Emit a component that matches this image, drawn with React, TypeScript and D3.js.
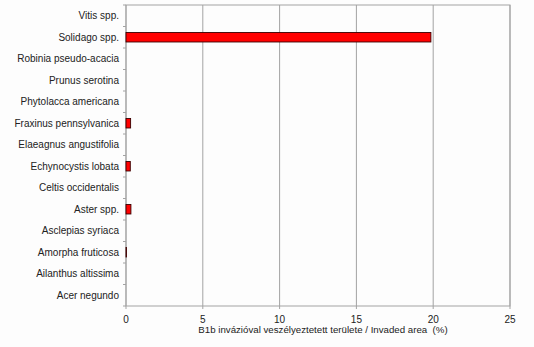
import React from "react";
import * as d3 from "d3";

const categories = [
  "Vitis spp.",
  "Solidago spp.",
  "Robinia pseudo-acacia",
  "Prunus serotina",
  "Phytolacca americana",
  "Fraxinus pennsylvanica",
  "Elaeagnus angustifolia",
  "Echynocystis lobata",
  "Celtis occidentalis",
  "Aster spp.",
  "Asclepias syriaca",
  "Amorpha fruticosa",
  "Ailanthus altissima",
  "Acer negundo",
];
const values = [0, 19.85, 0, 0, 0, 0.3, 0, 0.28, 0, 0.32, 0, 0.03, 0, 0];
const xTicks = [0, 5, 10, 15, 20, 25];
const xLabel = "B1b invázióval veszélyeztetett területe / Invaded area  (%)";

const W = 534;
const H = 347;
const M = { left: 126, right: 24, top: 5, bottom: 41 };

export default function App() {
  const x = d3.scaleLinear().domain([0, 25]).range([M.left, W - M.right]);
  const y = d3
    .scaleBand<string>()
    .domain(categories)
    .range([M.top, H - M.bottom])
    .paddingInner(0)
    .paddingOuter(0);
  const bw = y.bandwidth();
  const barH = bw * 0.44;
  const font = "Liberation Sans, Arial, Helvetica, sans-serif";
  const grid = "#a3a3a3";
  const bottom = H - M.bottom;
  const bandEdges = categories.map((c) => y(c)!).concat([bottom]);

  return (
    <svg
      width={W}
      height={H}
      style={{ position: "absolute", left: 0, top: 0, background: "#fdfdfd" }}
      fontFamily={font}
    >
      <rect x={0} y={0} width={W} height={H} fill="#fdfdfd" />
      {/* plot frame */}
      <rect
        x={x(0)}
        y={M.top}
        width={x(25) - x(0)}
        height={bottom - M.top}
        fill="none"
        stroke={grid}
        strokeWidth={1}
      />
      {/* vertical gridlines */}
      {xTicks.map((t) => (
        <line
          key={"g" + t}
          x1={x(t)}
          x2={x(t)}
          y1={M.top}
          y2={bottom + 3}
          stroke={grid}
          strokeWidth={1}
        />
      ))}
      {/* y ticks */}
      {bandEdges.map((e, i) => (
        <line
          key={"yt" + i}
          x1={x(0) - 3}
          x2={x(0)}
          y1={e}
          y2={e}
          stroke={grid}
          strokeWidth={1}
        />
      ))}
      {/* bars */}
      {categories.map((c, i) =>
        values[i] > 0 ? (
          <rect
            key={"b" + c}
            x={x(0)}
            y={y(c)! + (bw - barH) / 2}
            width={x(values[i]) - x(0)}
            height={barH}
            fill="#ff0000"
            stroke="#3a0000"
            strokeWidth={0.9}
          />
        ) : null
      )}
      {/* category labels */}
      {categories.map((c) => (
        <text
          key={"l" + c}
          x={x(0) - 7}
          y={y(c)! + bw / 2}
          dy="0.35em"
          textAnchor="end"
          fontSize={10}
          fill="#222"
        >
          {c}
        </text>
      ))}
      {/* x tick labels */}
      {xTicks.map((t) => (
        <text
          key={"xl" + t}
          x={x(t)}
          y={bottom + 16.5}
          textAnchor="middle"
          fontSize={10}
          fill="#222"
        >
          {t}
        </text>
      ))}
      <text
        x={323}
        y={bottom + 26.5}
        textAnchor="middle"
        fontSize={9.7}
        fill="#222"
        style={{ whiteSpace: "pre" }}
      >
        {xLabel}
      </text>
    </svg>
  );
}
